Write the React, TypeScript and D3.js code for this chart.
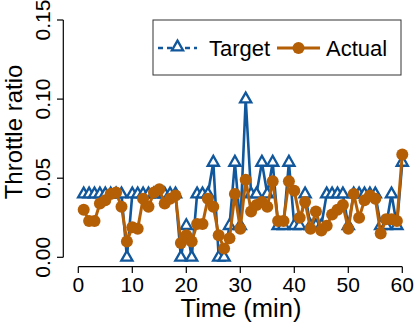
import React, { useRef, useEffect } from 'react'
import { select, scaleLinear, line } from 'd3'

// minutes 1..60
const minutes = Array.from({ length: 60 }, (_, i) => i + 1)

const target = [
  0.04, 0.04, 0.04, 0.04, 0.04, 0.04, 0.04, 0.04, 0.0, 0.04,
  0.04, 0.04, 0.04, 0.04, 0.04, 0.04, 0.04, 0.04, 0.0, 0.02,
  0.0, 0.04, 0.04, 0.04, 0.06, 0.0, 0.0, 0.02, 0.06, 0.02,
  0.10, 0.04, 0.04, 0.06, 0.04, 0.06, 0.02, 0.02, 0.06, 0.02,
  0.02, 0.04, 0.02, 0.02, 0.02, 0.04, 0.04, 0.04, 0.04, 0.02,
  0.04, 0.04, 0.04, 0.04, 0.04, 0.02, 0.02, 0.04, 0.02, 0.06,
]

const actual = [
  0.030, 0.023, 0.023, 0.034, 0.036, 0.040, 0.041, 0.032, 0.010, 0.019,
  0.018, 0.037, 0.032, 0.041, 0.043, 0.034, 0.037, 0.039, 0.009, 0.014,
  0.010, 0.021, 0.021, 0.037, 0.032, 0.014, 0.0055, 0.012, 0.040, 0.018,
  0.049, 0.029, 0.033, 0.035, 0.032, 0.048, 0.023, 0.023, 0.048, 0.042,
  0.025, 0.035, 0.018, 0.029, 0.017, 0.020, 0.027, 0.030, 0.033, 0.018,
  0.040, 0.025, 0.036, 0.039, 0.037, 0.015, 0.024, 0.024, 0.023, 0.065,
]

const xTicks = [0, 10, 20, 30, 40, 50, 60]
const yTicks = [0, 0.05, 0.1, 0.15]

const BLUE = '#11579c'
const ORANGE = '#b45f06'
const FONT = 'Liberation Sans, Arial, sans-serif'

const tri = (r: number) => `M0,${-r * 1.15}L${r},${r * 0.6}L${-r},${r * 0.6}Z`

function Chart() {
  const svgRef = useRef<SVGSVGElement>(null)

  useEffect(() => {
    const svg = select(svgRef.current)
    svg.selectAll('*').remove()

    const x = scaleLinear().domain([0, 60]).range([78.3, 402.3])
    const y = scaleLinear().domain([0, 0.15]).range([257.3, 20])

    // y axis
    const ya = svg.append('g')
    ya.append('line').attr('x1', 63.3).attr('x2', 63.3)
      .attr('y1', y(0)).attr('y2', y(0.15)).attr('stroke', '#000').attr('stroke-width', 1.2)
    yTicks.forEach(t => {
      ya.append('line').attr('x1', 57).attr('x2', 63.3).attr('y1', y(t)).attr('y2', y(t))
        .attr('stroke', '#000').attr('stroke-width', 1.2)
      ya.append('text')
        .attr('transform', `translate(50,${y(t)}) rotate(-90)`)
        .attr('text-anchor', 'middle')
        .attr('font-family', FONT).attr('font-size', 21)
        .text(t.toFixed(2))
    })
    svg.append('text')
      .attr('transform', `translate(22,132) rotate(-90)`)
      .attr('text-anchor', 'middle')
      .attr('font-family', FONT).attr('font-size', 24)
      .text('Throttle ratio')

    // x axis
    const xa = svg.append('g')
    xa.append('line').attr('x1', x(0)).attr('x2', x(60)).attr('y1', 266.7).attr('y2', 266.7)
      .attr('stroke', '#000').attr('stroke-width', 1.2)
    xTicks.forEach(t => {
      xa.append('line').attr('x1', x(t)).attr('x2', x(t)).attr('y1', 266.7).attr('y2', 273)
        .attr('stroke', '#000').attr('stroke-width', 1.2)
      xa.append('text')
        .attr('x', x(t)).attr('y', 292)
        .attr('text-anchor', 'middle')
        .attr('font-family', FONT).attr('font-size', 21)
        .text(t)
    })
    svg.append('text')
      .attr('x', 241).attr('y', 317)
      .attr('text-anchor', 'middle')
      .attr('font-family', FONT).attr('font-size', 25.5)
      .text('Time (min)')

    // target series
    const tData = minutes.map((m, i) => [m, target[i]] as [number, number])
    const aData = minutes.map((m, i) => [m, actual[i]] as [number, number])
    const lg = line<[number, number]>().x(d => x(d[0])).y(d => y(d[1]))

    svg.append('path').attr('d', lg(tData)).attr('fill', 'none')
      .attr('stroke', BLUE).attr('stroke-width', 2.6)
    svg.selectAll('.tri').data(tData).enter().append('path')
      .attr('class', 'tri')
      .attr('transform', d => `translate(${x(d[0])},${y(d[1])})`)
      .attr('d', tri(5.6))
      .attr('fill', 'white').attr('stroke', BLUE).attr('stroke-width', 2.3)

    // actual series
    svg.append('path').attr('d', lg(aData)).attr('fill', 'none')
      .attr('stroke', ORANGE).attr('stroke-width', 3)
    svg.selectAll('.dot').data(aData).enter().append('circle')
      .attr('class', 'dot')
      .attr('cx', d => x(d[0])).attr('cy', d => y(d[1]))
      .attr('r', 6).attr('fill', ORANGE)

    // legend
    const lgd = svg.append('g')
    lgd.append('rect').attr('x', 153).attr('y', 20).attr('width', 248).attr('height', 55)
      .attr('fill', 'white').attr('stroke', '#333').attr('stroke-width', 1)
    lgd.append('line').attr('x1', 158).attr('x2', 197).attr('y1', 48).attr('y2', 48)
      .attr('stroke', BLUE).attr('stroke-width', 2.3).attr('stroke-dasharray', '5,4')
    lgd.append('path').attr('transform', 'translate(177.5,47)').attr('d', tri(5.6))
      .attr('fill', 'white').attr('stroke', BLUE).attr('stroke-width', 2.3)
    lgd.append('text').attr('x', 209).attr('y', 56)
      .attr('font-family', FONT).attr('font-size', 22).text('Target')
    lgd.append('line').attr('x1', 277).attr('x2', 320).attr('y1', 48).attr('y2', 48)
      .attr('stroke', ORANGE).attr('stroke-width', 3)
    lgd.append('circle').attr('cx', 298.5).attr('cy', 48).attr('r', 6).attr('fill', ORANGE)
    lgd.append('text').attr('x', 326).attr('y', 56)
      .attr('font-family', FONT).attr('font-size', 22).text('Actual')
  }, [])

  return <svg ref={svgRef} width="415" height="325"></svg>
}

export default function App() {
  return (
    <div style={{ position: 'absolute', left: 0, top: 0 }}>
      <Chart />
    </div>
  )
}
